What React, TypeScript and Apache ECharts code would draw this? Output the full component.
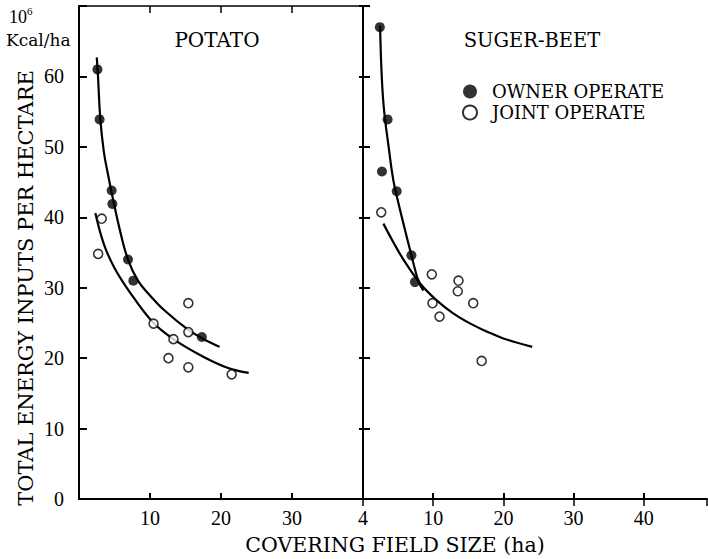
import React, { useEffect, useRef } from "react";
import * as echarts from "echarts";

// ---- data ----
const panelTitles = ["POTATO", "SUGER-BEET"];
const seriesNames = ["OWNER OPERATE", "JOINT OPERATE"];
const yTicks = [0, 10, 20, 30, 40, 50, 60];

// POTATO – owner operate (filled)
const potatoOwnerX = [2.6, 2.9, 4.6, 4.7, 6.9, 7.65, 17.3];
const potatoOwnerY = [61, 53.9, 43.8, 41.9, 34.0, 31.0, 23.0];
// POTATO – joint operate (open)
const potatoJointX = [2.7, 3.2, 10.5, 12.6, 13.3, 15.4, 15.4, 15.4, 21.5];
const potatoJointY = [34.8, 39.8, 24.9, 20.0, 22.7, 27.8, 23.7, 18.7, 17.7];
// POTATO fitted curves
const potatoOwnerCurveX = [2.5, 2.65, 3.0, 3.5, 4.1, 4.7, 5.8, 6.9, 8.3, 10, 11.9, 15.4, 17.4, 19.8];
const potatoOwnerCurveY = [62.7, 60.5, 54, 49.3, 46, 43, 38, 34, 31.0, 28.9, 26.9, 24.0, 22.8, 21.6];
const potatoJointCurveX = [2.3, 3.5, 5, 7, 10.3, 13.3, 17.5, 21, 23.9];
const potatoJointCurveY = [40.6, 36.2, 32.8, 29.6, 25.2, 22.7, 20.2, 18.6, 17.9];

// SUGER-BEET – owner operate (filled)
const beetOwnerX = [2.4, 3.5, 2.7, 4.8, 6.9, 7.4];
const beetOwnerY = [67, 53.9, 46.5, 43.7, 34.6, 30.8];
// SUGER-BEET – joint operate (open)
const beetJointX = [2.6, 9.8, 13.6, 13.5, 9.9, 15.7, 10.9, 16.9];
const beetJointY = [40.7, 31.9, 31.0, 29.5, 27.8, 27.8, 25.9, 19.6];
// SUGER-BEET fitted curves
const beetOwnerCurveX = [2.43, 2.67, 3.0, 3.6, 4.33, 5.0, 5.76, 6.95, 7.9, 8.6];
const beetOwnerCurveY = [67.2, 60, 55.2, 50.4, 45.2, 42.2, 39.1, 34.4, 30.9, 29.6];
const beetJointCurveX = [2.9, 4.3, 5.76, 8.14, 10.5, 12.8, 15.3, 17.6, 20, 24.1];
const beetJointCurveY = [39.1, 36.5, 34.0, 30.6, 28.2, 26.4, 24.9, 23.8, 22.8, 21.6];

const zip = (xs: number[], ys: number[]) => xs.map((x, i) => [x, ys[i]]);

const SERIF_NUM = "'Liberation Serif', serif";
const SERIF_TXT = "'DejaVu Serif', serif";

export default function App() {
  const ref = useRef<HTMLDivElement>(null);

  useEffect(() => {
    if (!ref.current) return;
    const chart = echarts.init(ref.current, undefined, { renderer: "svg" });

    const lineBase = {
      type: "line",
      smooth: 0.4,
      showSymbol: false,
      symbol: "none",
      silent: true,
      lineStyle: { color: "#000", width: 2.2 },
      z: 2,
    };
    const filled = {
      type: "scatter",
      name: seriesNames[0],
      symbol: "circle",
      symbolSize: 10,
      itemStyle: { color: "#000" },
      z: 5,
    };
    const open = {
      type: "scatter",
      name: seriesNames[1],
      symbol: "circle",
      symbolSize: 9,
      itemStyle: { color: "#fff", borderColor: "#000", borderWidth: 1.6 },
      z: 5,
    };

    const bottomAxisBase = {
      type: "value",
      min: 0,
      interval: 10,
      axisLine: { show: true, lineStyle: { color: "#000", width: 2 } },
      axisTick: { show: true, inside: true, length: 6, lineStyle: { color: "#000", width: 2 } },
      splitLine: { show: false },
      axisLabel: {
        color: "#000",
        fontFamily: SERIF_NUM,
        fontSize: 20,
        margin: 9,
        showMaxLabel: true,
        showMinLabel: true,
      },
    };
    const topAxisBase = {
      type: "value",
      position: "top",
      min: 0,
      interval: 10,
      axisLine: { show: true, lineStyle: { color: "#000", width: 1.5 } },
      axisTick: { show: true, inside: true, length: 7, lineStyle: { color: "#000", width: 1.5 } },
      splitLine: { show: false },
      axisLabel: { show: false },
    };

    const option: any = {
      animation: false,
      backgroundColor: "#fff",
      textStyle: { fontFamily: SERIF_TXT, color: "#000" },
      grid: [
        { left: 79, top: 6, width: 284, height: 493 },
        { left: 363, top: 6, width: 344, height: 493 },
      ],
      xAxis: [
        {
          ...bottomAxisBase,
          gridIndex: 0,
          max: 40,
          axisLabel: {
            ...bottomAxisBase.axisLabel,
            formatter: (v: number) => (v === 0 ? "" : v === 40 ? "4" : String(v)),
          },
        },
        {
          ...bottomAxisBase,
          gridIndex: 1,
          max: 49,
          axisLabel: {
            ...bottomAxisBase.axisLabel,
            showMaxLabel: false,
            formatter: (v: number) => (v === 0 || v % 10 !== 0 ? "" : String(v)),
          },
        },
        { ...topAxisBase, gridIndex: 0, max: 40 },
        { ...topAxisBase, gridIndex: 1, max: 49 },
      ],
      yAxis: [
        {
          type: "value",
          gridIndex: 0,
          min: 0,
          max: 70,
          interval: 10,
          axisLine: { show: true, lineStyle: { color: "#000", width: 2 } },
          axisTick: { show: true, inside: true, length: 8, lineStyle: { color: "#000", width: 2 } },
          splitLine: { show: false },
          axisLabel: {
            color: "#000",
            fontFamily: SERIF_NUM,
            fontSize: 20,
            margin: 15,
            formatter: (v: number) => (yTicks.indexOf(v) >= 0 ? String(v) : ""),
          },
        },
        {
          type: "value",
          gridIndex: 1,
          min: 0,
          max: 70,
          interval: 10,
          axisLine: { show: true, lineStyle: { color: "#000", width: 2 } },
          axisTick: { show: true, inside: true, length: 7, lineStyle: { color: "#000", width: 2 } },
          splitLine: { show: false },
          axisLabel: { show: false },
        },
        {
          type: "value",
          gridIndex: 1,
          position: "right",
          min: 0,
          max: 70,
          interval: 10,
          axisLine: { show: false },
          axisTick: { show: true, inside: true, length: 4, lineStyle: { color: "#000", width: 2 } },
          splitLine: { show: false },
          axisLabel: { show: false },
        },
      ],
      legend: {
        data: [{ name: seriesNames[0] }, { name: seriesNames[1] }],
        orient: "vertical",
        left: 457,
        top: 76,
        icon: "circle",
        itemWidth: 14,
        itemHeight: 14,
        itemGap: 0,
        selectedMode: false,
        textStyle: {
          fontFamily: SERIF_TXT,
          fontSize: 18,
          color: "#000",
          lineHeight: 21,
          padding: [0, 0, 0, 10],
        },
      },
      graphic: [
        {
          type: "text",
          x: 217,
          y: 40,
          style: { text: panelTitles[0], font: `20px ${SERIF_TXT}`, fill: "#000", align: "center", verticalAlign: "middle" },
        },
        {
          type: "text",
          x: 532,
          y: 40,
          style: { text: panelTitles[1], font: `19.5px ${SERIF_TXT}`, fill: "#000", align: "center", verticalAlign: "middle" },
        },
        {
          type: "text",
          x: 26,
          y: 288,
          rotation: Math.PI / 2,
          style: {
            text: "TOTAL ENERGY INPUTS PER HECTARE",
            font: `21px ${SERIF_TXT}`,
            fill: "#000",
            align: "center",
            verticalAlign: "middle",
          },
        },
        {
          type: "text",
          x: 395,
          y: 545,
          style: {
            text: "COVERING FIELD SIZE (ha)",
            font: `20.5px ${SERIF_TXT}`,
            fill: "#000",
            align: "center",
            verticalAlign: "middle",
          },
        },
        {
          type: "text",
          x: 9,
          y: 17,
          style: { text: "10", font: `18px ${SERIF_NUM}`, fill: "#000", align: "left", verticalAlign: "middle" },
        },
        {
          type: "text",
          x: 27,
          y: 11,
          style: { text: "6", font: `11px ${SERIF_NUM}`, fill: "#000", align: "left", verticalAlign: "middle" },
        },
        {
          type: "text",
          x: 6,
          y: 40,
          style: { text: "Kcal/ha", font: `17px ${SERIF_TXT}`, fill: "#000", align: "left", verticalAlign: "middle" },
        },
      ],
      series: [
        { ...lineBase, name: "potato-owner-fit", xAxisIndex: 0, yAxisIndex: 0, data: zip(potatoOwnerCurveX, potatoOwnerCurveY) },
        { ...lineBase, name: "potato-joint-fit", xAxisIndex: 0, yAxisIndex: 0, data: zip(potatoJointCurveX, potatoJointCurveY) },
        { ...lineBase, name: "beet-owner-fit", xAxisIndex: 1, yAxisIndex: 1, data: zip(beetOwnerCurveX, beetOwnerCurveY) },
        { ...lineBase, name: "beet-joint-fit", xAxisIndex: 1, yAxisIndex: 1, data: zip(beetJointCurveX, beetJointCurveY) },
        { ...filled, xAxisIndex: 0, yAxisIndex: 0, data: zip(potatoOwnerX, potatoOwnerY) },
        { ...open, xAxisIndex: 0, yAxisIndex: 0, data: zip(potatoJointX, potatoJointY) },
        { ...filled, xAxisIndex: 1, yAxisIndex: 1, data: zip(beetOwnerX, beetOwnerY) },
        { ...open, xAxisIndex: 1, yAxisIndex: 1, data: zip(beetJointX, beetJointY) },
      ],
    };

    chart.setOption(option);
    return () => chart.dispose();
  }, []);

  return (
    <div
      ref={ref}
      style={{ position: "absolute", left: 0, top: 0, width: 708, height: 559, background: "#fff" }}
    />
  );
}
